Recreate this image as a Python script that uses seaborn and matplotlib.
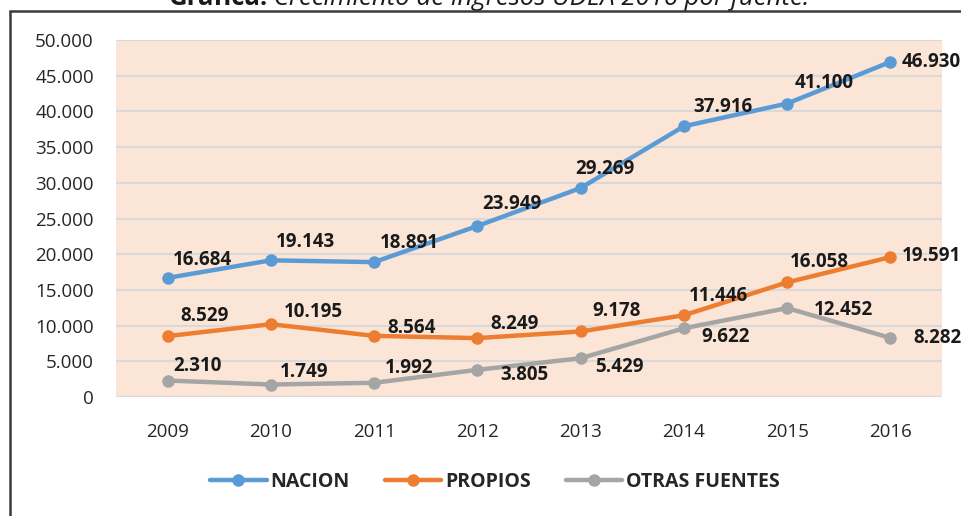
import pandas as pd
import numpy as np
import matplotlib.pyplot as plt
from matplotlib.patches import Rectangle
import seaborn as sns

# Datos de la gráfica (ingresos por fuente)
years = [2009, 2010, 2011, 2012, 2013, 2014, 2015, 2016]
nacion = [16684, 19143, 18891, 23949, 29269, 37916, 41100, 46930]
propios = [8529, 10195, 8564, 8249, 9178, 11446, 16058, 19591]
otras = [2310, 1749, 1992, 3805, 5429, 9622, 12452, 8282]
series_names = ['NACION', 'PROPIOS', 'OTRAS FUENTES']
y_ticks = [0, 5000, 10000, 15000, 20000, 25000, 30000, 35000, 40000, 45000, 50000]

# desplazamiento de las etiquetas (pixeles, centro del texto)
offsets = {
    'NACION': [(35, 18), (35, 18), (35, 19), (35, 22), (24, 19), (39, 19), (37, 21), (41, 0)],
    'PROPIOS': [(37, 20), (43, 12), (37, 8), (37, 14), (36, 20), (35, 19), (32, 20), (41, 1)],
    'OTRAS FUENTES': [(30, 15), (33, 13), (35, 15), (47, -5), (39, -9), (42, -9), (56, -2), (47, 0)],
}
colors = {'NACION': '#5B9BD5', 'PROPIOS': '#ED7D31', 'OTRAS FUENTES': '#A5A5A5'}

df = pd.DataFrame({'year': years * 3,
                   'valor': nacion + propios + otras,
                   'fuente': [n for n in series_names for _ in years]})

sns.set_style('white')
plt.rcParams['font.family'] = ['Open Sans', 'DejaVu Sans']


def miles(v):
    return f"{int(v):,}".replace(',', '.')


fig = plt.figure(figsize=(9.61, 5.16), dpi=100)
ax = fig.add_axes([116 / 961, 119 / 516, 826 / 961, 357 / 516])
ax.set_facecolor('#FBE5D6')

for name in series_names:
    sub = df[df['fuente'] == name]
    sns.lineplot(data=sub, x='year', y='valor', ax=ax, color=colors[name],
                 marker='o', markersize=9, markeredgewidth=0, linewidth=3.2,
                 label=name, legend=False)
    for x, v, (dx, dy) in zip(sub['year'], sub['valor'], offsets[name]):
        ax.annotate(miles(v), (x, v), xytext=(dx, dy), textcoords='offset pixels',
                    ha='center', va='center', fontsize=13.5, fontweight='bold',
                    color='#1a1a1a', annotation_clip=False)

ax.set_xlim(2008.5, 2016.5)
ax.set_ylim(0, 50000)
ax.set_yticks(y_ticks)
ax.set_yticklabels([miles(t) for t in y_ticks])
ax.set_xticks(years)
ax.set_xlabel('')
ax.set_ylabel('')
ax.grid(axis='y', color='#D9D9D9', linewidth=1.5)
ax.set_axisbelow(True)
for s in ax.spines.values():
    s.set_visible(False)
ax.tick_params(axis='y', length=0, pad=16, labelsize=13.5, labelcolor='#262626')
ax.tick_params(axis='x', length=0, pad=19, labelsize=13.5, labelcolor='#262626')

# leyenda
handles, labels = ax.get_legend_handles_labels()
fig.legend(handles, labels, loc='center', bbox_to_anchor=(495 / 961, 34 / 516),
           ncol=3, frameon=False, handlelength=2.9, handletextpad=0.2,
           columnspacing=1.8, prop={'size': 14, 'weight': 'bold'})

# titulo (cortado en la parte superior, como en la imagen original)
t1 = fig.text(168 / 961, 1 - 5 / 516, 'Gráfica:', ha='left', va='baseline',
              fontsize=18.5, fontweight='bold', color='#1a1a1a')
plt.annotate(' Crecimiento de ingresos UDEA 2016 por fuente.', xy=(1, 0), xycoords=t1,
             ha='left', va='bottom', fontsize=18.5, fontstyle='italic', color='#1a1a1a')

# marco
fig.patches.append(Rectangle((10 / 961, -0.1), 1.2, 1.1 - 10.5 / 516,
                             transform=fig.transFigure, fill=False,
                             edgecolor='#3a3a3a', linewidth=1.8, figure=fig))

fig.savefig('out.png', dpi=100)
